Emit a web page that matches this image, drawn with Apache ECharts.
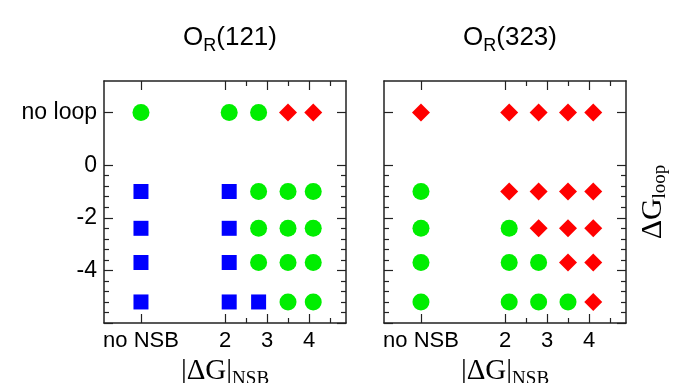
<!DOCTYPE html>
<html>
<head>
<meta charset="utf-8">
<script src="https://cdn.jsdelivr.net/npm/echarts@6/dist/echarts.min.js"></script>
<style>
html,body{margin:0;padding:0;background:#fff;}
#chart{width:678px;height:383px;}
</style>
</head>
<body>
<div id="chart"></div>
<script>
// ---- data ----
// |ΔG|NSB positions of the columns (0 = "no NSB")
const xLevels = [0, 2.1, 2.8, 3.5, 4.1];
// ΔGloop positions of the rows (2 = "no loop")
const yLevels = [2, -1, -2.4, -3.7, -5.2];
// outcome per row (yLevels) and column (xLevels): G = circle, B = square, R = diamond
const outcome121 = [
  ['G', 'G', 'G', 'R', 'R'],
  ['B', 'B', 'G', 'G', 'G'],
  ['B', 'B', 'G', 'G', 'G'],
  ['B', 'B', 'G', 'G', 'G'],
  ['B', 'B', 'B', 'G', 'G']
];
const outcome323 = [
  ['R', 'R', 'R', 'R', 'R'],
  ['G', 'R', 'R', 'R', 'R'],
  ['G', 'G', 'R', 'R', 'R'],
  ['G', 'G', 'G', 'R', 'R'],
  ['G', 'G', 'G', 'G', 'R']
];
const panelTitles = ['121', '323'];
// ticks
const xTickValues = [0, 2, 3, 4];
const xTickLabels = ['no NSB', '2', '3', '4'];
const xMinorTicks = [2.5, 3.5, 4.5];
const yTickValues = [2, 0, -2, -4, -6];
const yTickLabels = ['no loop', '0', '-2', '-4', ''];
const yMinorTicks = [-0.4, -0.8, -1.2, -1.6, -2.4, -2.8, -3.2, -3.6, -4.4, -4.8, -5.2, -5.6];
const xRange = [-0.88, 4.88];
const yRange = [-6, 3.2];

// ---- styles ----
const kinds = {
  G: {symbol: 'circle', size: 17, color: '#00ee00'},
  B: {symbol: 'rect', size: 15, color: '#0000ff'},
  R: {symbol: 'diamond', size: 18, color: '#ff0000'}
};
const sans = 'Liberation Sans, Arial, sans-serif';
const serif = 'Liberation Serif, Times New Roman, serif';
const lineCol = '#222';
const grids = [
  {left: 104, top: 81, width: 242, height: 242, outerBoundsMode: 'none', containLabel: false},
  {left: 384, top: 81, width: 242, height: 242, outerBoundsMode: 'none', containLabel: false}
];

function xLabel(v) {
  const i = xTickValues.indexOf(v);
  return i >= 0 ? xTickLabels[i] : '';
}
function yLabel(v) {
  const i = yTickValues.indexOf(v);
  return i >= 0 ? yTickLabels[i] : '';
}

const lineOn = {show: true, onZero: false, lineStyle: {color: lineCol, width: 1.5}};
const lineOff = {show: false, onZero: false};
const xAxes = [], yAxes = [], series = [];
grids.forEach((g, gi) => {
  const base = {gridIndex: gi, type: 'value', min: xRange[0], max: xRange[1], splitLine: {show: false}};
  // bottom major
  xAxes.push(Object.assign({}, base, {
    position: 'bottom',
    axisLine: lineOn,
    axisTick: {show: true, inside: true, length: 9, customValues: xTickValues, lineStyle: {color: lineCol, width: 1.2}},
    axisLabel: {show: true, customValues: xTickValues, formatter: xLabel, margin: 7,
      color: '#000', fontFamily: sans, fontSize: 22},
    name: '{a||ΔG|}{s|NSB}', nameLocation: 'middle', nameGap: 26,
    nameTextStyle: {rich: {
      a: {fontFamily: serif, fontSize: 29, color: '#000'},
      s: {fontFamily: serif, fontSize: 19, color: '#000', padding: [15, 0, 0, 0]}
    }}
  }));
  // bottom minor
  xAxes.push(Object.assign({}, base, {
    position: 'bottom',
    axisLine: lineOff,
    axisTick: {show: true, inside: true, length: 5, customValues: xMinorTicks, lineStyle: {color: lineCol, width: 1.2}},
    axisLabel: {show: false}
  }));
  // top major
  xAxes.push(Object.assign({}, base, {
    position: 'top',
    axisLine: lineOn,
    axisTick: {show: true, inside: true, length: 9, customValues: xTickValues, lineStyle: {color: lineCol, width: 1.2}},
    axisLabel: {show: false}
  }));
  // top minor
  xAxes.push(Object.assign({}, base, {
    position: 'top',
    axisLine: lineOff,
    axisTick: {show: true, inside: true, length: 5, customValues: xMinorTicks, lineStyle: {color: lineCol, width: 1.2}},
    axisLabel: {show: false}
  }));

  const ybase = {gridIndex: gi, type: 'value', min: yRange[0], max: yRange[1], splitLine: {show: false}};
  yAxes.push(Object.assign({}, ybase, {
    position: 'left',
    axisLine: lineOn,
    axisTick: {show: true, inside: true, length: 9, customValues: yTickValues, lineStyle: {color: lineCol, width: 1.2}},
    axisLabel: {show: gi === 0, customValues: yTickValues.slice(0, 4), formatter: yLabel, margin: 7,
      color: '#000', fontFamily: sans, fontSize: 23}
  }));
  yAxes.push(Object.assign({}, ybase, {
    position: 'left',
    axisLine: lineOff,
    axisTick: {show: true, inside: true, length: 5, customValues: yMinorTicks, lineStyle: {color: lineCol, width: 1.2}},
    axisLabel: {show: false}
  }));
  const rightMajor = Object.assign({}, ybase, {
    position: 'right',
    axisLine: lineOn,
    axisTick: {show: true, inside: true, length: 9, customValues: yTickValues, lineStyle: {color: lineCol, width: 1.2}},
    axisLabel: {show: false}
  });
  if (gi === 1) {
    Object.assign(rightMajor, {
      name: '{a|ΔG}{s|loop}', nameLocation: 'middle', nameRotate: 90, nameGap: 10,
      nameTextStyle: {rich: {
        a: {fontFamily: serif, fontSize: 30, color: '#000'},
        s: {fontFamily: serif, fontSize: 19, color: '#000', padding: [15, 0, 0, 0]}
      }}
    });
  }
  yAxes.push(rightMajor);
  yAxes.push(Object.assign({}, ybase, {
    position: 'right',
    axisLine: lineOff,
    axisTick: {show: true, inside: true, length: 5, customValues: yMinorTicks, lineStyle: {color: lineCol, width: 1.2}},
    axisLabel: {show: false}
  }));

  const table = gi === 0 ? outcome121 : outcome323;
  Object.keys(kinds).forEach(k => {
    const pts = [];
    table.forEach((row, ri) => row.forEach((c, ci) => {
      if (c === k) pts.push([xLevels[ci], yLevels[ri]]);
    }));
    series.push({
      type: 'scatter', xAxisIndex: gi * 4, yAxisIndex: gi * 4,
      symbol: kinds[k].symbol, symbolSize: kinds[k].size,
      itemStyle: {color: kinds[k].color, opacity: 1},
      silent: true, animation: false, data: pts
    });
  });
});

const titles = grids.map((g, gi) => ({
  text: '{o|O}{s|R}{o|(' + panelTitles[gi] + ')}',
  left: g.left + g.width / 2, top: 16, textAlign: 'center',
  textStyle: {fontWeight: 'normal', rich: {
    o: {fontFamily: sans, fontSize: 26, fontWeight: 'normal', color: '#000'},
    s: {fontFamily: sans, fontSize: 18, fontWeight: 'normal', color: '#000', padding: [16, 0, 0, 0]}
  }}
}));

const chart = echarts.init(document.getElementById('chart'), null, {renderer: 'canvas'});
chart.setOption({
  animation: false,
  backgroundColor: '#fff',
  title: titles,
  grid: grids,
  xAxis: xAxes,
  yAxis: yAxes,
  series: series
});
</script>
</body>
</html>
